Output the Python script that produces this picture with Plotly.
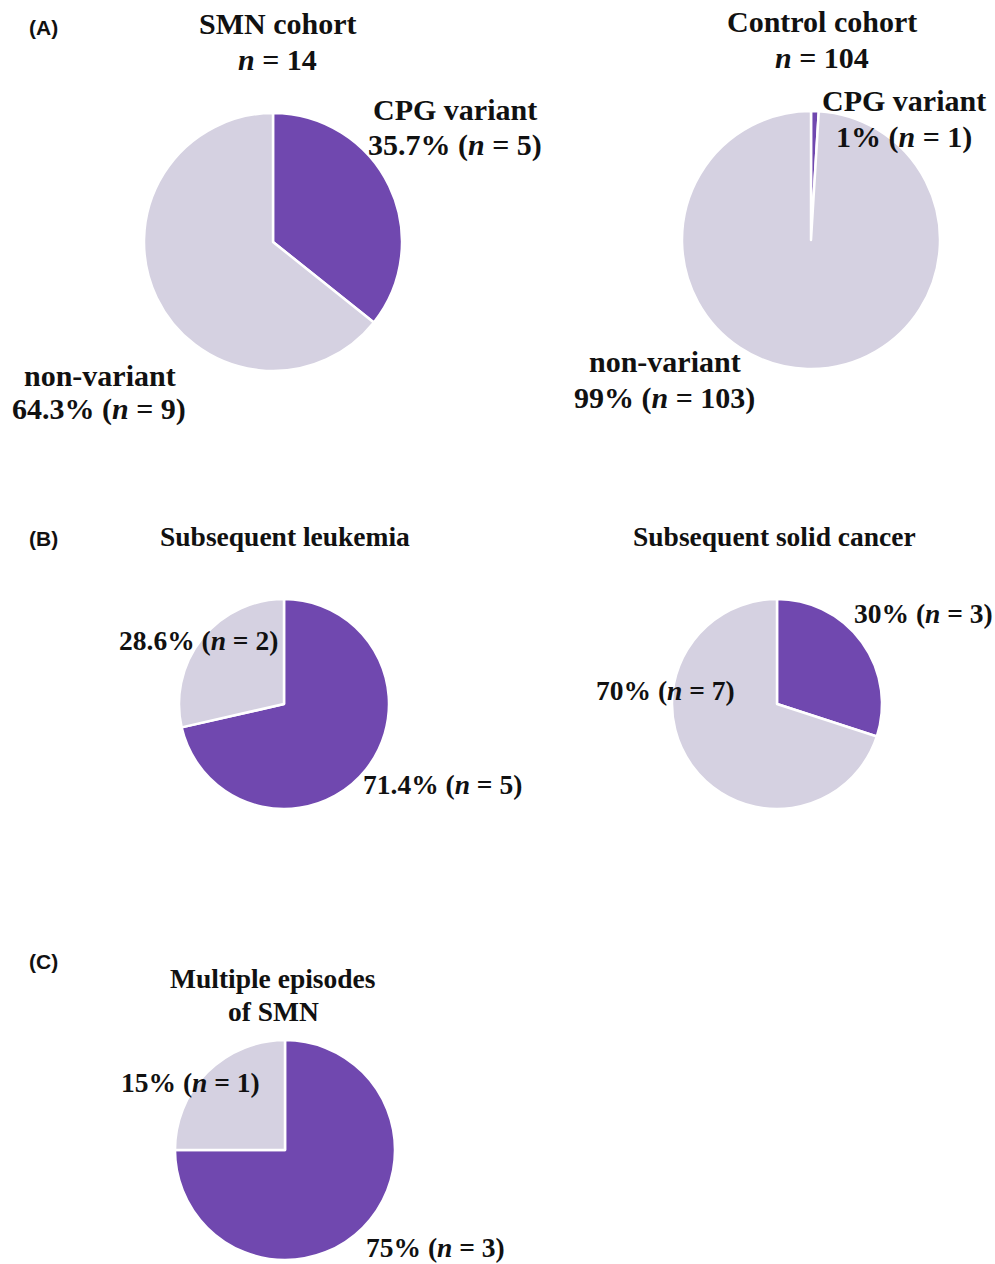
import plotly.graph_objects as go

W, H = 995, 1264

# ---- data ----
categories = ["CPG variant", "non-variant"]
smn_counts = [5, 9]
control_counts = [1, 103]
leukemia_counts = [5, 2]
solid_counts = [3, 7]
multiple_counts = [3, 1]

smn_labels = ["35.7% (<i>n</i> = 5)", "64.3% (<i>n</i> = 9)"]
control_labels = ["1% (<i>n</i> = 1)", "99% (<i>n</i> = 103)"]
leukemia_labels = ["71.4% (<i>n</i> = 5)", "28.6% (<i>n</i> = 2)"]
solid_labels = ["30% (<i>n</i> = 3)", "70% (<i>n</i> = 7)"]
multiple_labels = ["75% (<i>n</i> = 3)", "15% (<i>n</i> = 1)"]

colors = ["#7048AF", "#D5D1E1"]

def dom(cx, cy, r):
    return dict(x=[(cx - r) / W, (cx + r) / W],
                y=[1 - (cy + r) / H, 1 - (cy - r) / H])

pies = [
    (smn_counts, dom(273, 242, 129)),
    (control_counts, dom(811, 240, 129)),
    (leukemia_counts, dom(284, 704, 105)),
    (solid_counts, dom(777, 704, 105)),
    (multiple_counts, dom(285, 1150, 110)),
]

fig = go.Figure()
for vals, d in pies:
    fig.add_trace(go.Pie(
        labels=categories, values=vals, domain=d,
        sort=False, direction="clockwise", rotation=0,
        marker=dict(colors=colors, line=dict(color="white", width=2.5)),
        textinfo="none", hoverinfo="skip", showlegend=False,
    ))

SERIF = "Liberation Serif, Times New Roman, serif"
SANS = "Liberation Sans, Arial, sans-serif"

def ann(text, x, y, size=30, family=SERIF, bold=True, xanchor="center"):
    fig.add_annotation(
        text=("<b>%s</b>" % text) if bold else text,
        x=x / W, y=1 - y / H, xref="paper", yref="paper",
        xanchor=xanchor, yanchor="middle", showarrow=False,
        font=dict(family=family, size=size, color="#111111"),
    )

# panel letters
ann("(A)", 27, 27, size=21, family=SANS, xanchor="left")
ann("(B)", 27, 539, size=21, family=SANS, xanchor="left")
ann("(C)", 27, 962, size=21, family=SANS, xanchor="left")

S2 = 27.5

# titles
ann("SMN cohort", 277, 24)
ann("<i>n</i> = %d" % sum(smn_counts), 277, 59)
ann("Control cohort", 822, 22)
ann("<i>n</i> = %d" % sum(control_counts), 822, 57)
ann("Subsequent leukemia", 285, 537, size=S2)
ann("Subsequent solid cancer", 774, 537, size=S2)
ann("Multiple episodes", 273, 978, size=S2)
ann("of SMN", 273, 1011, size=S2)

# slice labels
ann(categories[0], 455, 109)
ann(smn_labels[0], 455, 145)
ann(categories[1], 100, 375)
ann(smn_labels[1], 99, 409)

ann(categories[0], 904, 101)
ann(control_labels[0], 904, 137)
ann(categories[1], 665, 362)
ann(control_labels[1], 664, 398)

ann(leukemia_labels[1], 198, 640, size=S2)
ann(leukemia_labels[0], 442, 784, size=S2)

ann(solid_labels[0], 923, 613, size=S2)
ann(solid_labels[1], 665, 690, size=S2)

ann(multiple_labels[1], 190, 1082, size=S2)
ann(multiple_labels[0], 435, 1247, size=S2)

fig.update_layout(
    width=W, height=H,
    margin=dict(l=0, r=0, t=0, b=0),
    paper_bgcolor="white", plot_bgcolor="white",
)

fig.write_html("out.html")
